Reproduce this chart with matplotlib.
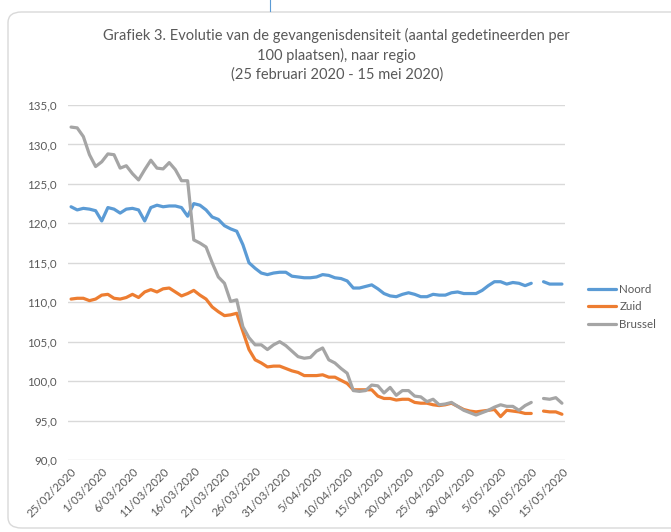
import matplotlib
matplotlib.use("Agg")
import matplotlib.pyplot as plt
import numpy as np
import pandas as pd
from matplotlib.patches import FancyBboxPatch
from matplotlib.lines import Line2D

plt.rcParams['font.family'] = ['Lato', 'DejaVu Sans']

nan = np.nan
dates = pd.date_range("2020-02-25", "2020-05-15", freq="D")
labels = [f"{d.day}/{d.month:02d}/{d.year}" for d in dates]

noord = [122.1, 121.7, 121.9, 121.8, 121.6, 120.3, 122.0, 121.8, 121.3, 121.8,
         121.9, 121.7, 120.3, 122.0, 122.3, 122.1, 122.2, 122.2, 122.0, 120.9,
         122.5, 122.3, 121.7, 120.8, 120.5, 119.7, 119.3, 119.0, 117.3, 115.0,
         114.3, 113.7, 113.5, 113.7, 113.8, 113.8, 113.3, 113.2, 113.1, 113.1,
         113.2, 113.5, 113.4, 113.1, 113.0, 112.7, 111.8, 111.8, 112.0, 112.2,
         111.7, 111.1, 110.8, 110.7, 111.0, 111.2, 111.0, 110.7, 110.7, 111.0,
         110.9, 110.9, 111.2, 111.3, 111.1, 111.1, 111.1, 111.5, 112.1, 112.6,
         112.6, 112.3, 112.5, 112.4, 112.1, 112.4, nan, 112.6, 112.3, 112.3, 112.3]
zuid = [110.4, 110.5, 110.5, 110.2, 110.4, 110.9, 111.0, 110.5, 110.4, 110.6,
        111.0, 110.6, 111.3, 111.6, 111.3, 111.7, 111.8, 111.3, 110.8, 111.1,
        111.5, 110.9, 110.4, 109.4, 108.8, 108.3, 108.4, 108.6, 106.3, 104.0,
        102.7, 102.3, 101.8, 101.9, 101.9, 101.6, 101.3, 101.1, 100.7, 100.7,
        100.7, 100.8, 100.5, 100.5, 100.1, 99.7, 98.9, 98.9, 98.9, 98.9,
        98.1, 97.8, 97.8, 97.6, 97.7, 97.7, 97.3, 97.2, 97.2, 97.0,
        96.9, 97.0, 97.2, 96.8, 96.4, 96.2, 96.1, 96.2, 96.3, 96.4,
        95.5, 96.3, 96.2, 96.1, 95.9, 95.9, nan, 96.2, 96.1, 96.1, 95.8]
brussel = [132.2, 132.1, 131.0, 128.7, 127.2, 127.8, 128.8, 128.7, 127.0, 127.3,
           126.3, 125.5, 126.8, 128.0, 127.0, 126.9, 127.7, 126.8, 125.4, 125.4,
           117.9, 117.5, 117.0, 115.0, 113.2, 112.4, 110.1, 110.3, 106.9, 105.5,
           104.6, 104.6, 104.0, 104.6, 105.0, 104.5, 103.8, 103.1, 102.9, 103.0,
           103.8, 104.2, 102.7, 102.3, 101.6, 101.0, 98.8, 98.7, 98.8, 99.5,
           99.4, 98.5, 99.2, 98.2, 98.8, 98.8, 98.1, 98.0, 97.4, 97.7,
           97.0, 97.1, 97.3, 96.8, 96.3, 96.0, 95.7, 96.0, 96.3, 96.7,
           97.0, 96.8, 96.8, 96.3, 96.9, 97.3, nan, 97.8, 97.7, 97.9, 97.2]

series = [("Noord", noord, "#5b9bd5"),
          ("Zuid", zuid, "#ed7d31"),
          ("Brussel", brussel, "#a5a5a5")]

fig = plt.figure(figsize=(6.71, 5.32), dpi=100)

# chart area border and the stray line above it
fig.add_artist(FancyBboxPatch((8 / 671, 4 / 532), 700 / 671, 516 / 532,
                              boxstyle="round,pad=0,rounding_size=0.02",
                              transform=fig.transFigure, fc="none",
                              ec="#d9d9d9", lw=1.0))
fig.add_artist(Line2D([270 / 671, 270 / 671], [1, 1 - 11 / 532],
                      transform=fig.transFigure, color="#5b9bd5", lw=0.8))

ax = fig.add_axes([68 / 671, 1 - 460 / 532, 497 / 671, 355 / 532])
x = np.arange(len(labels))
for name, vals, col in series:
    ax.plot(x, vals, color=col, lw=2.3, label=name, solid_capstyle="round")

ax.set_xlim(-0.5, len(labels) - 0.5)
ax.set_ylim(90, 135)
ax.set_yticks(np.arange(90, 136, 5))
ax.set_yticklabels([f"{v:.1f}".replace(".", ",") for v in np.arange(90, 136, 5)])
ax.set_xticks(x[::5])
ax.set_xticklabels(labels[::5], rotation=45, ha="right", va="top",
                   rotation_mode="anchor")
ax.tick_params(length=0, labelsize=8.3, colors="#595959")
ax.tick_params(axis="y", pad=8)
ax.tick_params(axis="x", pad=4)
ax.grid(axis="y", color="#d9d9d9", lw=1.0)
ax.set_axisbelow(True)
for s in ax.spines.values():
    s.set_visible(False)

fig.text(0.502, 1 - 35 / 532,
         "Grafiek 3. Evolutie van de gevangenisdensiteit (aantal gedetineerden per",
         ha="center", va="center", fontsize=10.5, color="#595959")
fig.text(0.502, 1 - 55 / 532, "100 plaatsen), naar regio",
         ha="center", va="center", fontsize=10.5, color="#595959")
fig.text(0.502, 1 - 75 / 532, "(25 februari 2020 - 15 mei 2020)",
         ha="center", va="center", fontsize=10.5, color="#595959")

ax.legend(loc="center left", bbox_to_anchor=(578 / 671, 1 - 307 / 532),
          bbox_transform=fig.transFigure, frameon=False, fontsize=8.3,
          labelcolor="#595959", handlelength=2.4, handletextpad=0.3,
          labelspacing=0.6)

fig.savefig("out.png", dpi=100)
